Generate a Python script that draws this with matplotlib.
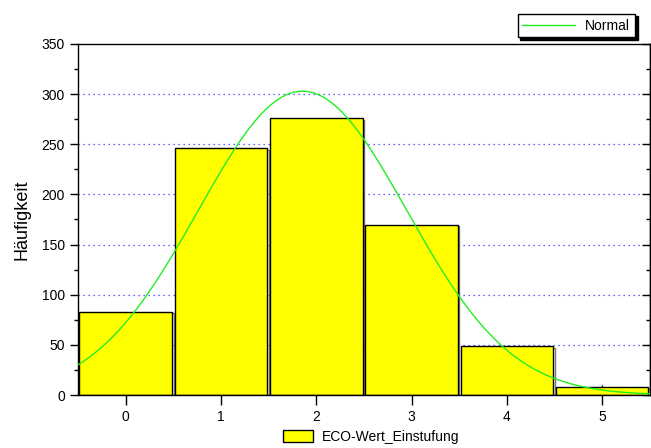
import matplotlib
matplotlib.use("Agg")
import matplotlib.pyplot as plt
from matplotlib.lines import Line2D
from matplotlib.patches import Patch
import matplotlib.patheffects as pe
import numpy as np

plt.rcParams['font.family'] = ['Liberation Sans', 'DejaVu Sans']

# data
categories = [0, 1, 2, 3, 4, 5]
counts = [83, 246, 276, 170, 49, 8]
y_ticks = [0, 50, 100, 150, 200, 250, 300, 350]

# normal curve fitted to the histogram
cat = np.array(categories, dtype=float)
cnt = np.array(counts, dtype=float)
n = cnt.sum()
mean = (cat * cnt).sum() / n
sd = np.sqrt(((cat - mean) ** 2 * cnt).sum() / n)
xs = np.linspace(-0.5, 5.5, 300)
ys = n / (sd * np.sqrt(2 * np.pi)) * np.exp(-0.5 * ((xs - mean) / sd) ** 2)

fig = plt.figure(figsize=(6.51, 4.48), dpi=100)
ax = fig.add_axes([0.1198, 0.1183, 0.8785, 0.7835])

for yv in y_ticks[1:-1]:
    ax.axhline(yv, color='#3333ff', linestyle=(0, (1, 3)), linewidth=0.9, zorder=0)

shadow = [pe.SimpleLineShadow(offset=(1.2, -1.2), shadow_color='#555555', alpha=0.8), pe.Normal()]
ax.bar(categories, counts, width=0.97, color='#ffff00', edgecolor='black',
       linewidth=1.0, zorder=2, path_effects=shadow)
ax.plot(xs, ys, color='#22ee22', linewidth=1.0, zorder=3)

ax.set_xlim(-0.5, 5.5)
ax.set_ylim(0, 350)
ax.set_xticks(categories)
ax.set_yticks(y_ticks)
ax.set_yticks(np.arange(25, 350, 50), minor=True)
ax.tick_params(axis='x', direction='inout', length=14, width=1.0, labelsize=10, pad=4)
ax.tick_params(axis='y', which='major', direction='out', length=6, width=1.0, labelsize=10)
ax.tick_params(axis='y', which='minor', direction='out', length=3, width=1.0)
ax.set_ylabel('Häufigkeit', fontsize=13, labelpad=8)
for s in ax.spines.values():
    s.set_linewidth(1.0)

# inward ticks on the right spine
right = ax.secondary_yaxis('right')
right.set_yticks(y_ticks)
right.set_yticks(np.arange(25, 350, 50), minor=True)
right.tick_params(which='major', direction='in', length=6, width=1.0, labelright=False)
right.tick_params(which='minor', direction='in', length=3, width=1.0)
right.spines['right'].set_linewidth(1.0)

leg1 = fig.legend([Line2D([0], [0], color='#22ee22', linewidth=1.0)], ['Normal'],
                  loc='center', bbox_to_anchor=(0.885, 0.943), fontsize=10, frameon=True,
                  fancybox=False, shadow={'color': 'black', 'alpha': 1.0}, edgecolor='black',
                  handlelength=3.8, borderpad=0.35, handletextpad=0.7)
leg1.get_frame().set_linewidth(1.0)

leg2 = fig.legend([Patch(facecolor='#ffff00', edgecolor='black')], ['ECO-Wert_Einstufung'],
                  loc='center', bbox_to_anchor=(0.57, 0.025), fontsize=10, frameon=False,
                  handlelength=2.2, handleheight=0.9, handletextpad=0.6)

fig.savefig('out.png', dpi=100)
